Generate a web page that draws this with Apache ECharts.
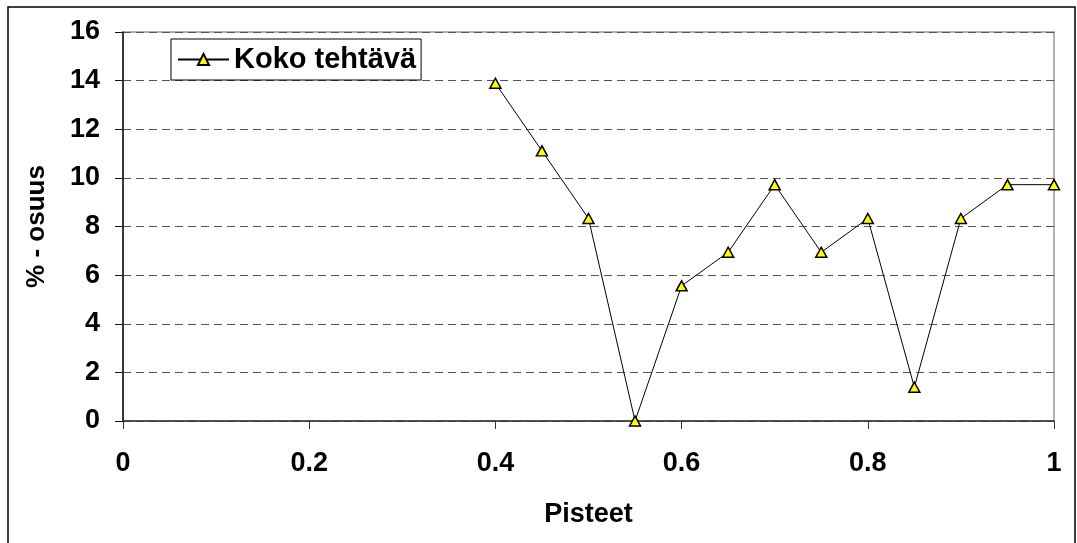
<!DOCTYPE html>
<html>
<head>
<meta charset="utf-8">
<script src="https://cdn.jsdelivr.net/npm/echarts@6/dist/echarts.min.js"></script>
<style>
  html, body { margin: 0; padding: 0; background: #fff; }
  #chart { width: 1077px; height: 543px; }
</style>
</head>
<body>
<div id="chart"></div>
<script>
// Share of answers per score level
const seriesName = 'Koko tehtävä';
const scores = [0.4, 0.45, 0.5, 0.55, 0.6, 0.65, 0.7, 0.75, 0.8, 0.85, 0.9, 0.95, 1.0];
const shares = [13.89, 11.11, 8.33, 0, 5.56, 6.94, 9.72, 6.94, 8.33, 1.39, 8.33, 9.72, 9.72];
const xTitle = 'Pisteet';
const yTitle = '% - osuus';

const chart = echarts.init(document.getElementById('chart'), null, { renderer: 'canvas' });
const font = 'Liberation Sans, Arial, sans-serif';

chart.setOption({
  animation: false,
  backgroundColor: '#fff',
  graphic: [{
    type: 'rect',
    shape: { x: 8, y: 7, width: 1067, height: 560 },
    style: { fill: 'none', stroke: '#000', lineWidth: 1.5 },
    silent: true
  }],
  grid: { left: 123, right: 23, top: 32, bottom: 122, show: true, borderColor: '#999', borderWidth: 1.5 },
  legend: {
    left: 171, top: 39,
    padding: [6, 5, 6, 6],
    borderColor: '#000', borderWidth: 1,
    itemWidth: 51, itemHeight: 14, itemGap: 6,
    textStyle: { fontFamily: font, fontWeight: 'bold', fontSize: 29, color: '#000' },
    data: [seriesName]
  },
  xAxis: {
    type: 'value', min: 0, max: 1, interval: 0.2,
    name: xTitle, nameLocation: 'middle', nameGap: 80,
    nameTextStyle: { fontFamily: font, fontWeight: 'bold', fontSize: 27, color: '#000' },
    axisLine: { lineStyle: { color: '#333', width: 1.5 } },
    axisTick: { show: true, length: 8, lineStyle: { color: '#333' } },
    axisLabel: { fontFamily: font, fontWeight: 'bold', fontSize: 27, color: '#000', margin: 29,
      formatter: v => String(+v.toFixed(1)) },
    splitLine: { show: false }
  },
  yAxis: {
    type: 'value', min: 0, max: 16, interval: 2,
    name: yTitle, nameLocation: 'middle', nameGap: 73, nameRotate: 90,
    nameTextStyle: { fontFamily: font, fontWeight: 'bold', fontSize: 26, color: '#000' },
    axisLine: { show: true, lineStyle: { color: '#111', width: 1.5 } },
    axisTick: { show: true, length: 8, lineStyle: { color: '#111' } },
    axisLabel: { fontFamily: font, fontWeight: 'bold', fontSize: 27, color: '#000', margin: 23 },
    splitLine: { show: true, lineStyle: { color: '#555', type: [8, 5], width: 1 } }
  },
  series: [{
    name: seriesName,
    type: 'line',
    data: scores.map((x, i) => [x, shares[i]]),
    symbol: 'triangle',
    symbolSize: [11, 10],
    lineStyle: { color: '#000', width: 1 },
    itemStyle: { color: '#ffff00', borderColor: '#000', borderWidth: 1.5 },
    z: 5
  }]
});
</script>
</body>
</html>
